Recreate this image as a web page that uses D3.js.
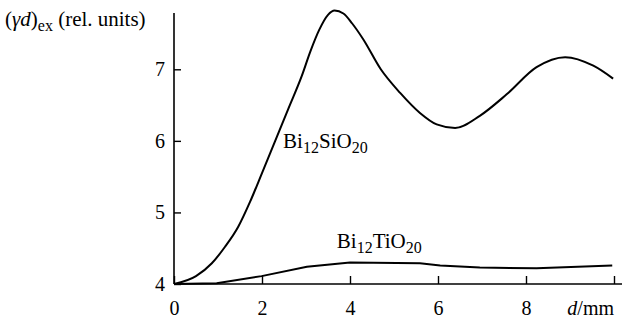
<!DOCTYPE html>
<html>
<head>
<meta charset="utf-8">
<script src="https://cdn.jsdelivr.net/npm/d3@7"></script>
<style>
  @font-face { font-family: "ChartSerif"; src: local("Liberation Serif"), local("LiberationSerif"), local("Tinos"); }
  @font-face { font-family: "ChartSerif"; font-style: italic; src: local("Liberation Serif Italic"), local("LiberationSerif-Italic"), local("Tinos Italic"); }
</style>
</head>
<body style="margin:0">
<div id="chart"></div>
<script>
// Bi12SiO20 curve (d in mm, value in rel. units)
const siD = [0, 0.5, 0.86, 1.16, 1.46, 1.73, 2.0, 2.3, 2.6, 2.9, 3.1, 3.3, 3.5, 3.65, 3.85, 4.05, 4.3, 4.7, 5.14, 5.59, 5.97, 6.39, 6.95, 7.56, 8.24, 8.89, 9.53, 9.98];
const siV = [4.0, 4.11, 4.29, 4.52, 4.80, 5.15, 5.55, 6.0, 6.45, 6.9, 7.25, 7.55, 7.76, 7.82, 7.78, 7.64, 7.42, 7.0, 6.67, 6.39, 6.23, 6.18, 6.35, 6.65, 7.03, 7.17, 7.05, 6.87];

// Bi12TiO20 curve
const tiD = [0, 0.97, 1.99, 3.02, 4.0, 5.59, 6.05, 6.95, 8.24, 9.96];
const tiV = [4.0, 4.01, 4.11, 4.24, 4.30, 4.29, 4.26, 4.23, 4.22, 4.26];

// ticks
const xTicks = [0, 2, 4, 6, 8, 10];
const yTicks = [4, 5, 6, 7];

const width = 634;
const height = 329;

const svg = d3.select('#chart')
    .append('svg')
    .attr('width', width)
    .attr('height', height)
    .style('font-family', '"Liberation Serif"');

const x = d3.scaleLinear().domain([0, 10]).range([174, 614]);
const y = d3.scaleLinear().domain([4, 7]).range([284, 69.3]);

// x axis
const xAxis = svg.append('g')
    .attr('transform', `translate(0,${y(4)})`)
    .call(d3.axisBottom(x)
        .tickValues(xTicks)
        .tickSize(-8)
        .tickSizeOuter(0)
        .tickPadding(17)
        .tickFormat(d => d === 10 ? '' : d));

// y axis
const yAxis = svg.append('g')
    .attr('transform', `translate(${x(0)},0)`)
    .call(d3.axisLeft(y)
        .tickValues(yTicks)
        .tickSize(-7)
        .tickSizeOuter(0)
        .tickPadding(9)
        .tickFormat(d3.format('d')));

[xAxis, yAxis].forEach(g => {
    g.attr('font-family', null).attr('font-size', null);
    g.select('.domain').remove();
    g.selectAll('.tick line').attr('stroke', '#000').attr('stroke-width', 1.4);
    g.selectAll('.tick text')
        .attr('fill', '#000')
        .style('font-size', '20px');
});

// axis lines, running a bit past the last ticks
svg.append('line')
    .attr('x1', x(0)).attr('x2', 622)
    .attr('y1', y(4)).attr('y2', y(4))
    .attr('stroke', '#000').attr('stroke-width', 1.6);
svg.append('line')
    .attr('x1', x(0)).attr('x2', x(0))
    .attr('y1', y(4)).attr('y2', 13)
    .attr('stroke', '#000').attr('stroke-width', 1.6);

// curves
const siLine = d3.line()
    .x((d, i) => x(siD[i]))
    .y(d => y(d))
    .curve(d3.curveMonotoneX);

const tiLine = d3.line()
    .x((d, i) => x(tiD[i]))
    .y(d => y(d));

svg.append('path')
    .attr('d', siLine(siV))
    .attr('fill', 'none')
    .attr('stroke', '#000')
    .attr('stroke-width', 2);

svg.append('path')
    .attr('d', tiLine(tiV))
    .attr('fill', 'none')
    .attr('stroke', '#000')
    .attr('stroke-width', 2);

// curve labels
function formula(px, py, parts) {
    const t = svg.append('text')
        .attr('x', px)
        .attr('y', py)
        .style('font-size', '21px');
    parts.forEach(p => {
        t.append('tspan')
            .attr('dy', p.sub ? 5 : (p.back ? -5 : 0))
            .style('font-size', p.sub ? '16px' : '21px')
            .text(p.s);
    });
}

formula(x(2.48), y(5.9), [
    { s: 'Bi' }, { s: '12', sub: true }, { s: 'SiO', back: true }, { s: '20', sub: true }
]);
formula(x(3.7), y(4.51), [
    { s: 'Bi' }, { s: '12', sub: true }, { s: 'TiO', back: true }, { s: '20', sub: true }
]);

// y title
const title = svg.append('text')
    .attr('x', 5)
    .attr('y', 26)
    .style('font-size', '21px');
title.append('tspan').text('(');
title.append('tspan').style('font-style', 'italic').text('γd');
title.append('tspan').text(')');
title.append('tspan').attr('dy', 5).style('font-size', '16px').text('ex');
title.append('tspan').attr('dy', -5).text(' (rel. units)');

// x title
const xt = svg.append('text')
    .attr('x', 614)
    .attr('y', 315)
    .attr('text-anchor', 'end')
    .style('font-size', '20px');
xt.append('tspan').style('font-style', 'italic').text('d');
xt.append('tspan').text('/mm');
</script>
</body>
</html>
